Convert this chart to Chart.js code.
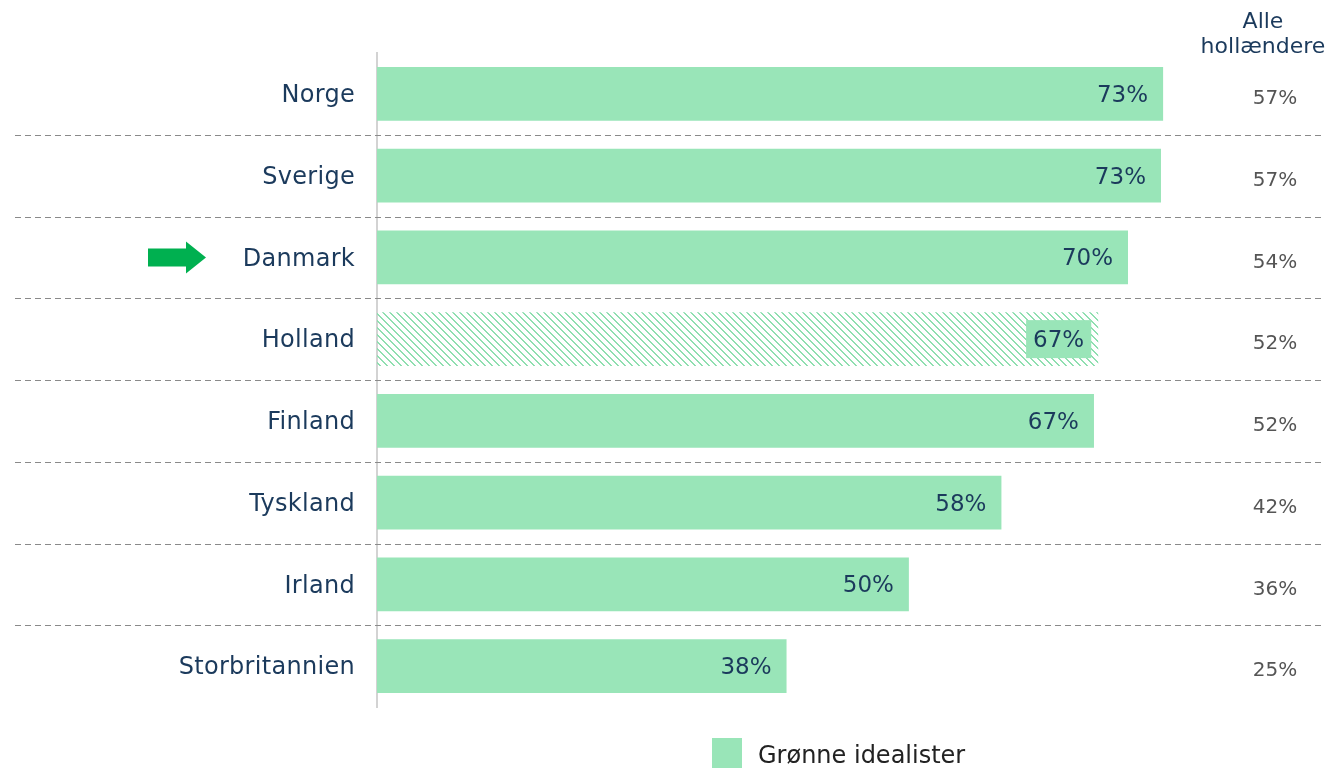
<!DOCTYPE html>
<html>
<head>
<meta charset="utf-8">
<script src="https://cdn.jsdelivr.net/npm/chart.js@4"></script>
<style>
  html, body { margin: 0; padding: 0; background: #ffffff; }
  #wrap { width: 1327px; height: 768px; position: relative; }
</style>
</head>
<body>
<div id="wrap"><canvas id="c" width="1327" height="768"></canvas></div>
<script>
// ---- data ----
const categories = ['Norge', 'Sverige', 'Danmark', 'Holland', 'Finland', 'Tyskland', 'Irland', 'Storbritannien'];
const greenIdealists = [73.9, 73.7, 70.6, 67.8, 67.4, 58.7, 50.0, 38.5];
const greenLabels = ['73%', '73%', '70%', '67%', '67%', '58%', '50%', '38%'];
const allDutch = ['57%', '57%', '54%', '52%', '52%', '42%', '36%', '25%'];
const seriesName = 'Grønne idealister';
const columnHeader = ['Alle', 'hollændere'];
const highlighted = 'Danmark';
const hatched = 'Holland';

// ---- styles ----
const FONT = "'DejaVu Sans', sans-serif";
const NAVY = '#1b3a5c';
const GREEN = '#99e5b8';
const GREY = '#555555';

function makePattern() {
  const p = document.createElement('canvas');
  p.width = 7; p.height = 7;
  const g = p.getContext('2d');
  g.fillStyle = '#8fdfb0';
  for (let i = 0; i < 7; i++) {
    g.fillRect(i, i, 1, 1);
    g.fillRect((i + 1) % 7, i, 1, 1);
  }
  return document.getElementById('c').getContext('2d').createPattern(p, 'repeat');
}
const pattern = makePattern();

const barColors = categories.map(c => c === hatched ? pattern : GREEN);

const extrasPlugin = {
  id: 'extras',
  beforeDraw(chart) {
    chart.ctx.letterSpacing = '0.3px';
  },
  afterDatasetsDraw(chart) {
    const ctx = chart.ctx;
    const meta = chart.getDatasetMeta(0);
    const ys = chart.scales.y;
    ctx.save();
    ctx.letterSpacing = '0px';
    // dashed separators between categories
    ctx.strokeStyle = '#8a8a8a';
    ctx.lineWidth = 1;
    ctx.setLineDash([6, 4]);
    for (let i = 0; i < categories.length - 1; i++) {
      const y = Math.round((ys.getPixelForValue(i) + ys.getPixelForValue(i + 1)) / 2) + 0.5;
      ctx.beginPath();
      ctx.moveTo(15, y);
      ctx.lineTo(1322, y);
      ctx.stroke();
    }
    ctx.setLineDash([]);
    ctx.textBaseline = 'middle';
    meta.data.forEach((bar, i) => {
      const txt = greenLabels[i];
      ctx.font = '23px ' + FONT;
      ctx.textAlign = 'right';
      if (categories[i] === hatched) {
        const w = ctx.measureText(txt).width;
        const right = bar.x - 7;
        ctx.fillStyle = GREEN;
        ctx.fillRect(right - w - 14, bar.y - 19, w + 14, 38);
        ctx.fillStyle = NAVY;
        ctx.fillText(txt, right - 7, bar.y + 2);
      } else {
        ctx.fillStyle = NAVY;
        ctx.fillText(txt, bar.x - 15, bar.y + 2);
      }
      // right column
      ctx.fillStyle = GREY;
      ctx.font = '20px ' + FONT;
      ctx.textAlign = 'center';
      ctx.fillText(allDutch[i], 1275, bar.y + 5);
    });
    // column header
    ctx.fillStyle = NAVY;
    ctx.font = '22px ' + FONT;
    ctx.textAlign = 'center';
    ctx.fillText(columnHeader[0], 1263, 22);
    ctx.fillText(columnHeader[1], 1263, 47);
    // arrow
    const ai = categories.indexOf(highlighted);
    const ay = ys.getPixelForValue(ai);
    ctx.fillStyle = '#00b050';
    ctx.beginPath();
    ctx.moveTo(148, ay - 9);
    ctx.lineTo(186, ay - 9);
    ctx.lineTo(186, ay - 16);
    ctx.lineTo(206, ay);
    ctx.lineTo(186, ay + 16);
    ctx.lineTo(186, ay + 9);
    ctx.lineTo(148, ay + 9);
    ctx.closePath();
    ctx.fill();
    // legend
    ctx.fillStyle = GREEN;
    ctx.fillRect(712, 738, 30, 30);
    ctx.fillStyle = '#222222';
    ctx.font = '24px ' + FONT;
    ctx.textAlign = 'left';
    ctx.fillText(seriesName, 758, 757);
    ctx.restore();
  }
};

new Chart(document.getElementById('c'), {
  type: 'bar',
  data: {
    labels: categories,
    datasets: [{
      label: seriesName,
      data: greenIdealists,
      backgroundColor: barColors,
      borderWidth: 0,
      barPercentage: 0.66,
      categoryPercentage: 1.0
    }]
  },
  options: {
    indexAxis: 'y',
    responsive: false,
    animation: false,
    layout: { padding: { top: 53, bottom: 61, left: 0, right: 99 } },
    plugins: { legend: { display: false }, tooltip: { enabled: false } },
    scales: {
      x: { display: false, min: 0, max: 80 },
      y: {
        grid: { display: false, drawTicks: false },
        border: { display: true, color: '#d3d3d3', width: 2 },
        ticks: { color: NAVY, font: { family: FONT, size: 24 }, padding: 22, labelOffset: 2 },
        afterFit(scale) { scale.width = 377; }
      }
    }
  },
  plugins: [extrasPlugin]
});
</script>
</body>
</html>
